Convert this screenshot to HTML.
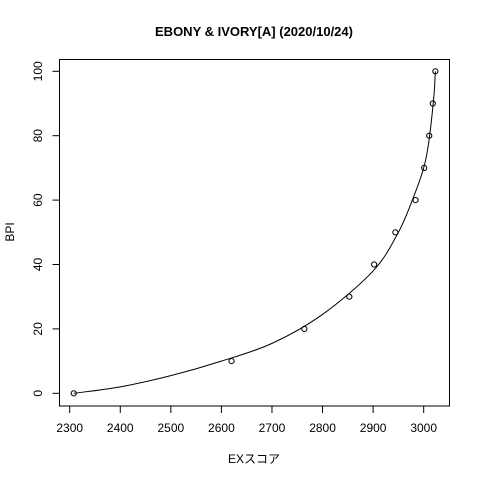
<!DOCTYPE html>
<html><head><meta charset="utf-8"><style>
html,body{margin:0;padding:0;background:#fff;width:480px;height:480px;overflow:hidden}
svg text{font-family:"Liberation Sans","Noto Sans CJK JP",sans-serif;fill:#000}
</style></head><body>
<svg id="chart" width="480" height="480" xmlns="http://www.w3.org/2000/svg">
<rect width="480" height="480" fill="#fff"/>
<text x="254" y="36" text-anchor="middle" font-size="13" font-weight="bold">EBONY &amp; IVORY[A] (2020/10/24)</text>
<rect x="59.5" y="59.5" width="390" height="346.5" fill="none" stroke="#000" stroke-width="1"/>
<text x="254" y="463" text-anchor="middle" font-size="12">EXスコア</text>
<text transform="translate(14,232) rotate(-90)" text-anchor="middle" font-size="12">BPI</text>
<g id="axes"></g><g id="marks"></g>
</svg>
<script>
const pointScores=[2308,2620,2764,2853,2902,2944,2984,3001,3011,3018,3023];
const pointBpi=[0,10,20,30,40,50,60,70,80,90,100];
const curveScores=[2308,2400,2500,2600,2700,2800,2900,2950,2980,3000,3010,3020,3023];
const curveBpi=[0,2,5.5,10,15.5,24.5,38,50,61,70,78,92,100];
const xTicks=[2300,2400,2500,2600,2700,2800,2900,3000];
const yTicks=[0,20,40,60,80,100];
const NS="http://www.w3.org/2000/svg";
function xs(v){return 69.7+(v-2300)*0.5057;}
function ys(v){return 393.3-v*3.22;}
const axes=document.getElementById('axes'),marks=document.getElementById('marks');
function mk(t,a,p){const e=document.createElementNS(NS,t);for(const k in a)e.setAttribute(k,a[k]);p.appendChild(e);return e;}
let l=mk('line',{x1:xs(xTicks[0]),x2:xs(xTicks[xTicks.length-1]),y1:406,y2:406,stroke:'#000'},axes);


xTicks.forEach(v=>{
 const t=mk('line',{x1:xs(v),x2:xs(v),y1:406,y2:413,stroke:'#000'},axes);
 
 
 const tx=mk('text',{x:xs(v),y:432,'text-anchor':'middle','font-size':'12'},axes);tx.textContent=v;
 
 
});
l=mk('line',{x1:59.5,x2:59.5,y1:ys(0),y2:ys(100),stroke:'#000'},axes);


yTicks.forEach(v=>{
 const t=mk('line',{x1:52.5,x2:59.5,y1:ys(v),y2:ys(v),stroke:'#000'},axes);
 
 
 const tx=mk('text',{transform:`translate(42,${ys(v)}) rotate(-90)`,'text-anchor':'middle','font-size':'12'},axes);tx.textContent=v;
 
 
});
const P=curveScores.map((s,i)=>[xs(s),ys(curveBpi[i])]);
let d=`M${P[0][0]},${P[0][1]}`;
for(let i=0;i<P.length-1;i++){const p0=P[Math.max(0,i-1)],p1=P[i],p2=P[i+1],p3=P[Math.min(P.length-1,i+2)];
 d+=` C${p1[0]+(p2[0]-p0[0])/6},${p1[1]+(p2[1]-p0[1])/6} ${p2[0]-(p3[0]-p1[0])/6},${p2[1]-(p3[1]-p1[1])/6} ${p2[0]},${p2[1]}`;}
const c=mk('path',{d:d,fill:'none',stroke:'#000','stroke-width':'1'},marks);


pointScores.forEach((s,i)=>{
 const p=mk('circle',{cx:xs(s),cy:ys(pointBpi[i]),r:2.6,fill:'none',stroke:'#000','stroke-width':'1'},marks);
 
 
});
</script>
</body></html>
